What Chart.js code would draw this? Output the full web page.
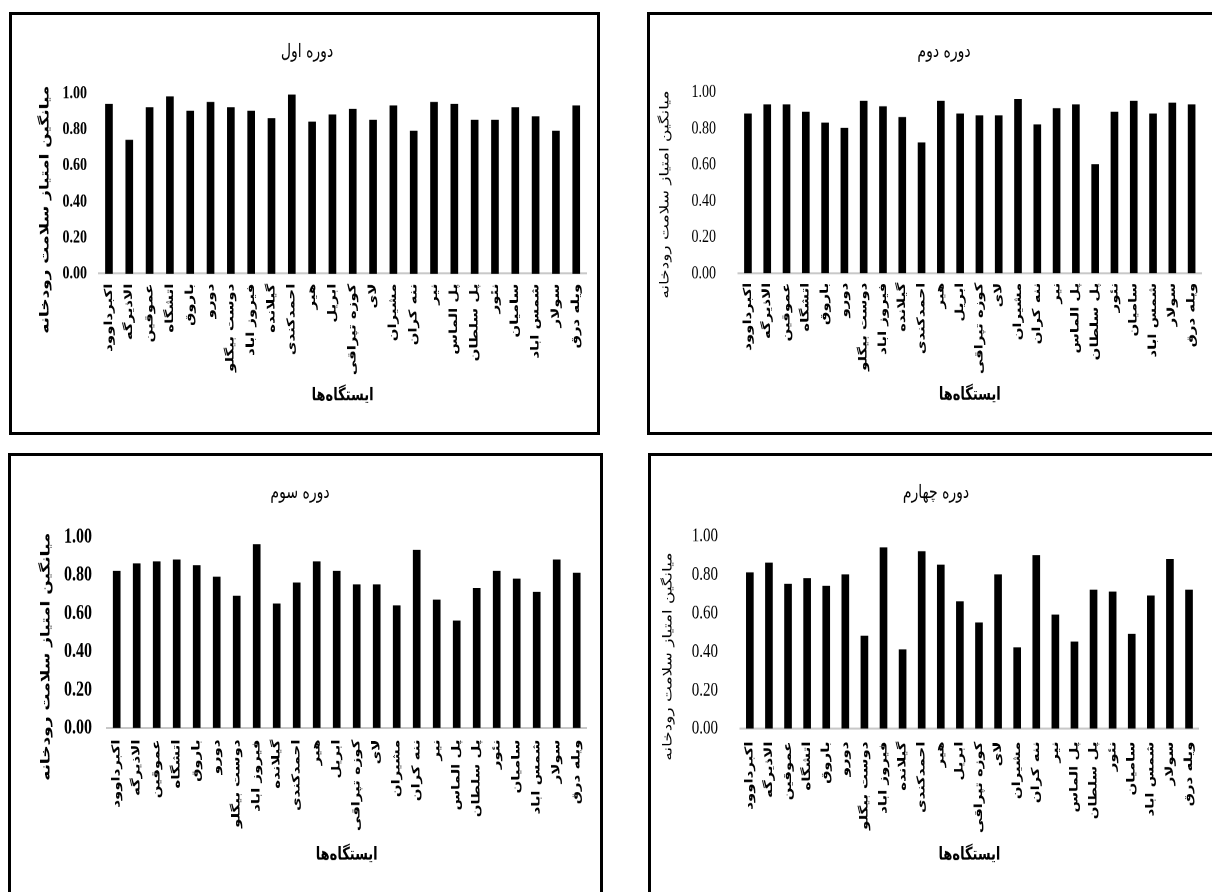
<!DOCTYPE html>
<html><head><meta charset="utf-8">
<script src="https://cdn.jsdelivr.net/npm/chart.js@4"></script>
<style>
html,body{margin:0;padding:0;background:#fff;width:1212px;height:892px;overflow:hidden;position:relative}
.box{position:absolute;border:3px solid #000;box-sizing:border-box}
.wrap{position:absolute;transform-origin:0 0}
canvas{display:block}
</style></head><body>
<script>
// ---- data ----
const stations = ['اکبرداوود','الاذیرگه','عموقین','اتشگاه','باروق','دورو','دوست بیگلو','فیروز اباد','گیلانده','احمدکندی','هیر','ابریل','کوزه تپراقی','لای','مشیران','ننه کران','نیر','پل الماس','پل سلطان','نئور','سامیان','شمس اباد','سولار','ویله درق'];
const period1 = [0.94,0.74,0.92,0.98,0.90,0.95,0.92,0.90,0.86,0.99,0.84,0.88,0.91,0.85,0.93,0.79,0.95,0.94,0.85,0.85,0.92,0.87,0.79,0.93];
const period2 = [0.88,0.93,0.93,0.89,0.83,0.80,0.95,0.92,0.86,0.72,0.95,0.88,0.87,0.87,0.96,0.82,0.91,0.93,0.60,0.89,0.95,0.88,0.94,0.93];
const period3 = [0.82,0.86,0.87,0.88,0.85,0.79,0.69,0.96,0.65,0.76,0.87,0.82,0.75,0.75,0.64,0.93,0.67,0.56,0.73,0.82,0.78,0.71,0.88,0.81];
const period4 = [0.81,0.86,0.75,0.78,0.74,0.80,0.48,0.94,0.41,0.92,0.85,0.66,0.55,0.80,0.42,0.90,0.59,0.45,0.72,0.71,0.49,0.69,0.88,0.72];
const periodTitles = ['دوره اول','دوره دوم','دوره سوم','دوره چهارم'];
const yAxisTitle = 'میانگین امتیاز سلامت رودخانه';
const xAxisTitle = 'ایستگاه\u200cها';
const yTickMin = 0, yTickMax = 1, yTickStep = 0.2;

// ---- layout (screen px) ----
const S = 1.35; // vertical stretch of the reference
const panels = [
  {data: period1, title: periodTitles[0], box:{x:9,y:12,w:591,h:423}, cv:{x:12,y:15,w:585,h:417},
   area:{l:98.8,r:589.4,t:93,b:274}, tickRight:87, labelTop:284, xTitleY:396,
   titleAt:[307,52], yTitleAt:[45,209], tick:{size:14,weight:'bold'}, yTitleWeight:'bold', barW:7},
  {data: period2, title: periodTitles[1], box:{x:647,y:12,w:600,h:423}, cv:{x:650,y:15,w:562,h:417},
   area:{l:738.3,r:1205.1,t:92,b:273.5}, tickRight:716, labelTop:283, xTitleY:395,
   titleAt:[944,52], yTitleAt:[665,194], tick:{size:14,weight:'normal'}, yTitleWeight:'normal', barW:7},
  {data: period3, title: periodTitles[2], box:{x:8,y:453,w:595,h:480}, cv:{x:11,y:456,w:589,h:436},
   area:{l:106.7,r:586.7,t:536.7,b:728.5}, tickRight:92, labelTop:740, xTitleY:855,
   titleAt:[300,493], yTitleAt:[46,656], tick:{size:16,weight:'bold'}, yTitleWeight:'bold', barW:7},
  {data: period4, title: periodTitles[3], box:{x:648,y:453,w:600,h:480}, cv:{x:651,y:456,w:561,h:436},
   area:{l:740.3,r:1205.1,t:536,b:729}, tickRight:718, labelTop:742, xTitleY:855,
   titleAt:[936,493], yTitleAt:[668,656], tick:{size:15,weight:'normal'}, yTitleWeight:'normal', barW:7}
];

const panelText = {
  id: 'panelText',
  afterDraw(chart, args, o) {
    const ctx = chart.ctx;
    ctx.save();
    ctx.fillStyle = '#000';
    ctx.textAlign = 'center';
    ctx.textBaseline = 'middle';
    ctx.font = o.titleFont;
    ctx.fillText(o.title, o.titleX, o.titleY);
    ctx.translate(o.yTitleX, o.yTitleY);
    ctx.rotate(-Math.PI / 2);
    ctx.font = o.yTitleFont;
    ctx.fillText(o.yTitle, 0, 0);
    ctx.restore();
  }
};

panels.forEach(p => {
  const box = document.createElement('div');
  box.className = 'box';
  Object.assign(box.style, {left:p.box.x+'px', top:p.box.y+'px', width:p.box.w+'px', height:p.box.h+'px'});
  document.body.appendChild(box);

  const W = p.cv.w, H = p.cv.h / S;
  const wrap = document.createElement('div');
  wrap.className = 'wrap';
  Object.assign(wrap.style, {left:p.cv.x+'px', top:p.cv.y+'px', width:W+'px', height:H+'px', transform:'scale(1,'+S+')'});
  const cv = document.createElement('canvas');
  cv.width = W; cv.height = H;
  cv.style.width = W + 'px'; cv.style.height = H + 'px';
  wrap.appendChild(cv);
  document.body.appendChild(wrap);

  const ly = y => (y - p.cv.y) / S;
  const areaTop = ly(p.area.t), areaBottom = ly(p.area.b);
  const xScaleH = H - areaBottom;
  const xTitleSize = 13, xTitleLH = xTitleSize * 1.2;
  const xTitlePadBottom = H - ly(p.xTitleY) - xTitleLH / 2;

  new Chart(cv, {
    type: 'bar',
    data: { labels: stations, datasets: [{ data: p.data, backgroundColor: '#000', borderWidth: 0, barThickness: p.barW }] },
    options: {
      responsive: false, animation: false, devicePixelRatio: 2,
      layout: { padding: { top: areaTop, right: p.cv.x + W - p.area.r, left: 0, bottom: 0 } },
      plugins: {
        legend: { display: false }, tooltip: { enabled: false }, title: { display: false },
        panelText: {
          title: p.title, titleX: p.titleAt[0] - p.cv.x, titleY: ly(p.titleAt[1]),
          titleFont: 'normal 14px "DejaVu Sans"',
          yTitle: yAxisTitle, yTitleX: p.yTitleAt[0] - p.cv.x, yTitleY: ly(p.yTitleAt[1]),
          yTitleFont: p.yTitleWeight + ' 12.5px "DejaVu Sans"'
        }
      },
      scales: {
        x: {
          grid: { display: false, drawTicks: false },
          border: { display: true, color: '#c8c8c8', width: 1.5 },
          ticks: { autoSkip: false, minRotation: 90, maxRotation: 90, padding: ly(p.labelTop) - areaBottom,
                   color: '#000', font: { family: 'DejaVu Sans', size: 11, weight: 'bold' } },
          title: { display: true, text: xAxisTitle, color: '#000',
                   font: { family: 'DejaVu Sans', size: xTitleSize, weight: 'bold', lineHeight: 1.2 },
                   padding: { top: 0, bottom: xTitlePadBottom } },
          afterFit: a => { a.height = xScaleH; }
        },
        y: {
          min: yTickMin, max: yTickMax,
          grid: { display: false, drawTicks: false },
          border: { display: false },
          ticks: { stepSize: yTickStep, padding: p.area.l - p.tickRight, color: '#000',
                   callback: v => Number(v).toFixed(2),
                   font: { family: 'Liberation Serif', size: p.tick.size, weight: p.tick.weight } },
          afterFit: a => { a.width = p.area.l - p.cv.x; }
        }
      }
    },
    plugins: [panelText]
  });
});
</script>
</body></html>
